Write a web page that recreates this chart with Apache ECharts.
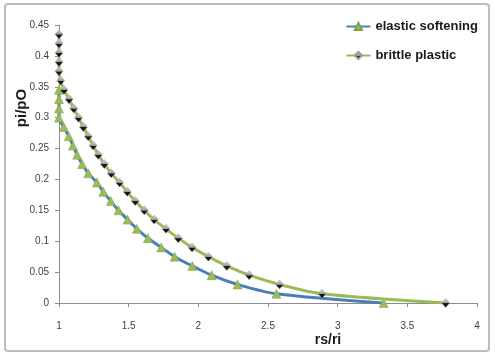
<!DOCTYPE html>
<html>
<head>
<meta charset="utf-8">
<script src="https://cdn.jsdelivr.net/npm/echarts@6/dist/echarts.min.js"></script>
<style>
  html, body { margin: 0; padding: 0; background: #ffffff; }
  #chart { width: 495px; height: 356px; }
</style>
</head>
<body>
<div id="chart"></div>
<script>
// rs/ri (x) and pi/pO (y) for the elastic-softening model
const elasticX = [1.0, 1.0, 1.0, 1.0, 1.034, 1.07, 1.1, 1.13, 1.166, 1.21, 1.272, 1.318, 1.372, 1.427, 1.492, 1.559, 1.638, 1.734, 1.83, 1.957, 2.096, 2.281, 2.56, 3.33];
const elasticY = [0.345, 0.33, 0.315, 0.30, 0.285, 0.27, 0.255, 0.24, 0.225, 0.21, 0.195, 0.18, 0.165, 0.15, 0.135, 0.12, 0.105, 0.09, 0.075, 0.06, 0.045, 0.03, 0.015, 0.0];

// rs/ri (x) and pi/pO (y) for the brittle-plastic model
const brittleX = [1.0, 1.0, 1.0, 1.0, 1.0, 1.012, 1.036, 1.072, 1.106, 1.14, 1.175, 1.21, 1.245, 1.282, 1.325, 1.375, 1.435, 1.49, 1.547, 1.612, 1.683, 1.768, 1.856, 1.955, 2.072, 2.204, 2.365, 2.583, 2.888, 3.775];
const brittleY = [0.435, 0.42, 0.405, 0.39, 0.375, 0.36, 0.345, 0.33, 0.315, 0.30, 0.285, 0.27, 0.255, 0.24, 0.225, 0.21, 0.195, 0.18, 0.165, 0.15, 0.135, 0.12, 0.105, 0.09, 0.075, 0.06, 0.045, 0.03, 0.015, 0.0];

const seriesNames = ['elastic softening', 'brittle plastic'];
const xTitle = 'rs/ri';
const yTitle = 'pi/pO';

const pairs = (xs, ys) => xs.map((x, i) => [x, ys[i]]);

const greyDiamond = new echarts.graphic.LinearGradient(0, 0, 0, 1, [
  { offset: 0, color: '#dcdcdc' },
  { offset: 0.5, color: '#9a9a9a' },
  { offset: 0.55, color: '#1a1a1a' },
  { offset: 1, color: '#000000' }
]);

const chart = echarts.init(document.getElementById('chart'), null, { renderer: 'canvas' });

chart.setOption({
  animation: false,
  backgroundColor: '#ffffff',
  textStyle: { fontFamily: 'Liberation Sans' },
  graphic: [{
    type: 'rect',
    shape: { x: 5, y: 4, width: 484, height: 347, r: 3 },
    style: { fill: 'none', stroke: '#bdbdbd', lineWidth: 2 },
    silent: true,
    z: -1
  }],
  legend: {
    top: 15,
    right: 12,
    orient: 'vertical',
    itemGap: 16,
    itemWidth: 24,
    itemHeight: 9,
    textStyle: { fontSize: 13, fontWeight: 'bold', color: '#1a1a1a', fontFamily: 'Liberation Sans' },
    data: seriesNames
  },
  grid: { left: 59, right: 18, top: 25, bottom: 53, outerBoundsMode: 'none', containLabel: false },
  xAxis: {
    type: 'value',
    min: 1, max: 4, interval: 0.5,
    name: xTitle,
    nameLocation: 'middle',
    nameGap: 30,
    nameMoveOverlap: false,
    nameTextStyle: { fontSize: 14, fontWeight: 'bold', color: '#1a1a1a', padding: [0, 0, 0, 120] },
    axisLine: { lineStyle: { color: '#8c8c8c', width: 1 } },
    axisTick: { show: true, length: 4, lineStyle: { color: '#8c8c8c' } },
    axisLabel: { fontSize: 10, color: '#404040', margin: 18 },
    splitLine: { show: false }
  },
  yAxis: {
    type: 'value',
    min: 0, max: 0.45, interval: 0.05,
    name: yTitle,
    nameLocation: 'middle',
    nameGap: 30,
    nameMoveOverlap: false,
    nameRotate: 90,
    nameTextStyle: { fontSize: 15, fontWeight: 'bold', color: '#1a1a1a', padding: [0, 0, 0, 112] },
    axisLine: { show: true, lineStyle: { color: '#8c8c8c', width: 1 } },
    axisTick: { show: true, length: 4, lineStyle: { color: '#8c8c8c' } },
    axisLabel: { fontSize: 10, color: '#404040', margin: 10 },
    splitLine: { show: false }
  },
  series: [
    {
      name: seriesNames[0],
      type: 'line',
      data: pairs(elasticX, elasticY),
      smooth: 0.3,
      lineStyle: { color: '#4a7ebb', width: 3 },
      itemStyle: { color: '#9bbb59', borderColor: '#7ea346', borderWidth: 0.5 },
      symbol: 'triangle',
      symbolSize: 9,
      z: 2
    },
    {
      name: seriesNames[1],
      type: 'line',
      data: pairs(brittleX, brittleY),
      smooth: 0.3,
      lineStyle: { color: '#9bbb59', width: 3 },
      itemStyle: { color: greyDiamond, borderColor: '#9a9a9a', borderWidth: 0.5 },
      symbol: 'diamond',
      symbolSize: [8, 9],
      z: 3
    }
  ]
});
</script>
</body>
</html>
